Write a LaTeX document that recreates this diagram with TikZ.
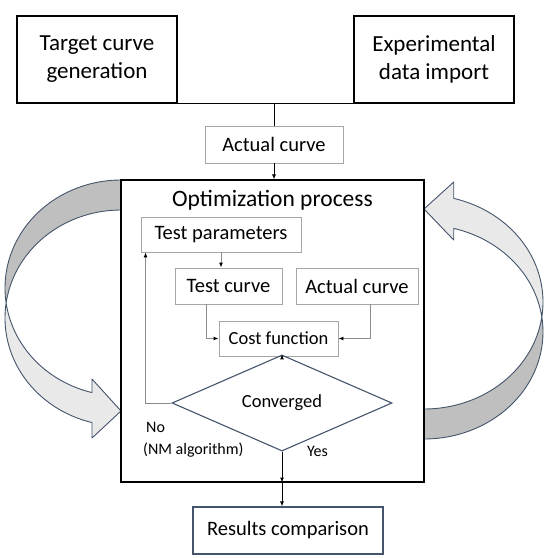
\documentclass[tikz,border=0pt]{standalone}
\usepackage{fontspec}
\setmainfont{Carlito}
\usetikzlibrary{shapes.geometric, arrows.meta}

\definecolor{slate}{HTML}{44546A}
\definecolor{boxgray}{HTML}{A6A6A6}
\definecolor{linegray}{HTML}{8C8C8C}
\definecolor{bandDark}{HTML}{BFBFBF}
\definecolor{bandLight}{HTML}{E9E9E9}

\begin{document}
\begin{tikzpicture}[x=1pt, y=-1pt,
    bigbox/.style={draw=black, line width=1.3pt, inner sep=0pt, align=center,
        minimum width=160pt, minimum height=87pt, font=\fontsize{23}{28}\selectfont},
    graybox/.style={draw=boxgray, line width=0.9pt, inner sep=0pt, font=\fontsize{20.5}{24}\selectfont},
    arr/.style={-{Latex[length=5pt, width=4pt, color=black, fill=black]}},
    glink/.style={draw=linegray, line width=0.9pt, arr},
    band/.style={draw=slate, line width=0.9pt, line join=round},
    lbl/.style={inner sep=0pt, font=\fontsize{16}{19}\selectfont}]
    \useasboundingbox (0,0) rectangle (550,558);

    % curved arrows on both sides
    \filldraw[band, fill=bandDark]
        plot[domain=90:188, samples=60] ({121+116*cos(\x)}, {288-108*sin(\x)})
        -- plot[domain=172:90, samples=60] ({121+116*cos(\x)}, {318-108*sin(\x)}) -- cycle;
    \filldraw[band, fill=bandLight]
        plot[domain=172:255.5, samples=60] ({121+116*cos(\x)}, {318-108*sin(\x)})
        -- (92,438) -- (121,411) -- (92,379)
        -- plot[domain=255.5:188, samples=60] ({121+116*cos(\x)}, {288-108*sin(\x)}) -- cycle;
    \filldraw[band, fill=bandDark]
        plot[domain=90:188, samples=60] ({424-119*cos(\x)}, {332+107*sin(\x)})
        -- plot[domain=172:90, samples=60] ({424-119*cos(\x)}, {302+107*sin(\x)}) -- cycle;
    \filldraw[band, fill=bandLight]
        plot[domain=172:255.5, samples=60] ({424-119*cos(\x)}, {302+107*sin(\x)})
        -- (453.75,182) -- (424,209) -- (453.75,240)
        -- plot[domain=255.5:188, samples=60] ({424-119*cos(\x)}, {332+107*sin(\x)}) -- cycle;

    % inputs
    \node[bigbox] (tgt) at (97,59.5) {Target curve\\generation};
    \node[bigbox] (exp) at (434,59.5) {Experimental\\data import};
    \node[graybox, minimum width=138pt, minimum height=37pt] (act) at (274,144.5) {Actual curve};
    \coordinate (join) at (tgt.south east -| act.north);
    \draw[line width=1pt] (tgt.south east) -- (exp.south west);
    \draw[line width=1pt] (join) -- (act.north);

    % optimization loop
    \node[draw, line width=1.1pt, inner sep=0pt, minimum width=303pt, minimum height=302pt] (opt) at (272.5,331) {};
    \node[inner sep=0pt, font=\fontsize{23.5}{28}\selectfont] (title) at (272.5,200) {Optimization process};
    \draw[line width=0.9pt, arr] (act.south) -- (act.south |- opt.north);

    \node[graybox, minimum width=160pt, minimum height=35pt] (tp) at (221,234.5) {Test parameters};
    \node[graybox, minimum width=107pt, minimum height=36pt] (tc) at (228.5,286) {Test curve};
    \node[graybox, minimum width=122pt, minimum height=36pt] (ac) at (357,286) {Actual curve};
    \node[graybox, minimum width=119pt, minimum height=35pt, font=\fontsize{18.5}{22}\selectfont] (cf) at (278.5,338.5) {Cost function};
    \node[diamond, draw=slate, line width=1.1pt, inner sep=0pt, minimum width=220pt, minimum height=66pt,
        font=\fontsize{18.5}{22}\selectfont] (conv) at (282,403) {Converged};

    \draw[glink] (tp.south) -- (tp.south |- tc.north);
    \draw[glink] ([xshift=-22.5pt]tc.south) |- (cf.west);
    \draw[glink] ([xshift=13pt]ac.south) |- (cf.east);
    \draw[glink] (conv.north |- cf.south) -- (conv.north);
    \draw[glink] (conv.west) -| ([xshift=5pt]tp.south west);

    \node[lbl, anchor=west] (no) at (146,427) {No};
    \node[lbl, anchor=west] (nm) at (143,450) {(NM algorithm)};
    \node[lbl] (yes) at (317.5,451) {Yes};

    % output
    \node[draw=slate, line width=1.1pt, inner sep=0pt, minimum width=190pt, minimum height=47pt,
        font=\fontsize{20.5}{24}\selectfont] (res) at (288,530.5) {Results comparison};
    \draw[line width=0.9pt, arr] (conv.south) -- (conv.south |- opt.south);
    \draw[line width=0.9pt, arr] (conv.south |- opt.south) -- (conv.south |- res.north);
\end{tikzpicture}
\end{document}
